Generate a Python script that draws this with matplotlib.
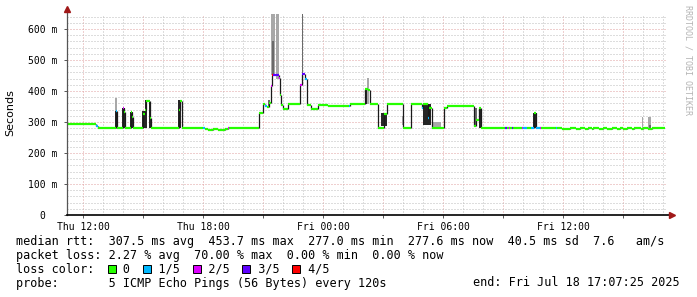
import matplotlib
matplotlib.use("Agg")
import matplotlib.pyplot as plt
from matplotlib.patches import Rectangle
import numpy as np

# median rtt steps: start time (hours after Thu 12:00), median (ms), loss (of 5 pings)
step_t = [-0.80, 0.65, 0.75, 1.65, 1.70, 2.00, 2.05, 2.10, 2.40, 2.45, 2.50,
          3.00, 3.10, 3.15, 3.35, 3.40, 4.80, 4.85, 4.95, 6.00, 6.10, 6.25,
          6.50, 6.75, 7.10, 7.25, 7.30, 8.70, 8.80, 9.00, 9.10, 9.20, 9.30,
          9.40, 9.45, 9.50, 9.80, 9.85, 9.90, 10.00, 10.25, 10.85, 10.95,
          11.10, 11.20, 11.40, 11.75, 12.25, 13.30, 13.35, 14.10, 14.25,
          14.35, 14.75, 15.05, 15.20, 16.00, 16.40, 16.95, 17.00, 17.25,
          17.30, 17.45, 18.05, 18.20, 19.55, 19.65, 19.80, 19.90, 21.10,
          21.20, 21.30, 21.35, 21.45, 21.50, 21.95, 22.00, 22.20, 22.40,
          22.55, 22.65, 22.85, 22.90, 23.65, 23.70, 23.95, 24.35, 24.65,
          24.85, 25.10, 25.25, 25.45, 25.50, 25.80, 26.00, 26.20, 26.45,
          26.70, 26.85, 27.00, 27.20, 27.45, 27.55, 27.90, 28.00, 28.25,
          28.45]
step_ms = [294, 288, 282, 335, 282, 345, 332, 282, 332, 316, 282,
           325, 340, 368, 313, 282, 340, 368, 282, 280, 278, 275,
           278, 275, 279, 282, 282, 282, 329, 358, 352, 350, 360,
           416, 452, 452, 442, 387, 355, 342, 358, 420, 455,
           440, 355, 342, 355, 352, 352, 358, 405, 403,
           358, 282, 325, 358, 282, 358, 345, 358, 312,
           345, 282, 345, 352, 287, 306, 345, 280, 280,
           280, 280, 280, 280, 280, 280, 280, 280, 280,
           329, 280, 280, 280, 280, 280, 277, 281, 277,
           281, 277, 281, 277, 281, 277, 281, 277, 281,
           277, 281, 277, 281, 277, 281, 277, 281, 277,
           281]
step_loss = [0, 1, 0, 1, 0, 2, 0, 0, 0, 0, 0,
             0, 0, 0, 0, 0, 0, 0, 0, 1, 0, 0,
             0, 0, 0, 2, 0, 0, 0, 0, 1, 0, 0,
             2, 4, 3, 2, 0, 0, 0, 0, 2, 3,
             1, 0, 0, 0, 0, 1, 0, 0, 0,
             0, 0, 0, 0, 0, 0, 1, 0, 1,
             0, 0, 0, 0, 0, 0, 0, 0, 3,
             0, 2, 0, 3, 0, 2, 1, 0, 1,
             0, 1, 2, 0, 1, 0, 0, 0, 0,
             0, 0, 0, 0, 0, 0, 0, 0, 0,
             0, 0, 0, 0, 0, 0, 0, 0, 0,
             0]
end_t = 29.10

# smoke: start, end (hours), low, high (ms), shade (0 light .. 2 dark)
smoke_t0 = [1.60, 1.62, 1.95, 2.35, 2.95, 3.10, 3.30, 4.75, 9.25, 9.40, 9.45,
            9.65, 10.95, 14.10, 14.20, 14.90, 15.95, 17.00, 17.50, 19.60,
            19.80, 22.50, 27.95, 28.25, 28.30]
smoke_t1 = [1.70, 1.70, 2.10, 2.50, 3.15, 3.20, 3.40, 4.90, 9.35, 9.60, 9.55,
            9.80, 11.00, 14.25, 14.30, 15.20, 16.05, 17.40, 17.90, 19.70,
            19.90, 22.70, 28.00, 28.40, 28.40]
smoke_lo = [282, 335, 282, 282, 282, 282, 282, 282, 350, 452, 452,
            440, 455, 358, 358, 287, 290, 290, 280, 287,
            282, 280, 280, 280, 280]
smoke_hi = [335, 378, 345, 332, 335, 372, 365, 370, 372, 660, 560,
            660, 660, 406, 442, 329, 320, 358, 300, 345,
            345, 329, 316, 315, 290]
smoke_shade = [2, 0, 2, 2, 2, 2, 2, 2, 1, 0, 1,
               0, 1, 2, 0, 2, 0, 2, 0, 1,
               2, 2, 0, 0, 1]

hour_ticks = [0, 6, 12, 18, 24]
hour_labels = ["Thu 12:00", "Thu 18:00", "Fri 00:00", "Fri 06:00", "Fri 12:00"]
ms_ticks = [0, 100, 200, 300, 400, 500, 600]
ms_labels = ["0  ", "100 m", "200 m", "300 m", "400 m", "500 m", "600 m"]

loss_colors = ["#26ff00", "#00b8ff", "#dd00ff", "#5e00ff", "#ff0000"]
loss_names = ["0", "1/5", "2/5", "3/5", "4/5"]
shade_colors = ["#a8a8a8", "#6a6a6a", "#262626"]

W, H = 697, 297
plt.rcParams["lines.scale_dashes"] = False
fig = plt.figure(figsize=(W / 100, H / 100), dpi=100, facecolor="white")
ax = fig.add_axes([67 / W, (H - 215) / H, 600 / W, 201.5 / H])
ax.set_xlim(-0.80, 29.20)
ax.set_ylim(0, 650)

mono = "DejaVu Sans Mono"

# grid
ax.set_axisbelow(True)
ax.set_xticks(np.arange(0, 30, 3))
ax.set_xticklabels([hour_labels[hour_ticks.index(h)] if h in hour_ticks else ""
                    for h in range(0, 30, 3)], fontfamily=mono, fontsize=7)
ax.set_xticks([h for h in range(0, 30) if h % 3], minor=True)
ax.set_yticks(ms_ticks)
ax.set_yticklabels(ms_labels, fontfamily=mono, fontsize=7)
ax.set_yticks([v for v in range(20, 660, 20) if v % 100], minor=True)
dots = (0, (0.72, 1.44))
ax.grid(which="major", color="#e0a0a0", lw=0.72, linestyle=dots)
ax.grid(which="minor", color="#bdbdbd", lw=0.72, linestyle=dots)
ax.tick_params(which="major", length=2, width=0.7, color="#555555", pad=5)
ax.tick_params(which="minor", length=0)
ax.tick_params(axis="x", pad=3)

for s in ax.spines.values():
    s.set_visible(False)

# smoke
for t0, t1, lo, hi, sh in zip(smoke_t0, smoke_t1, smoke_lo, smoke_hi, smoke_shade):
    ax.fill_between([t0, t1], lo, hi, color=shade_colors[sh], lw=0, zorder=2)

# median: dark risers and loss-coloured treads
t_edges = np.array(step_t + [end_t])
ms = np.array(step_ms)
ax.vlines(t_edges[1:-1], ms[:-1], ms[1:], color="#1a1a1a", lw=0.9, zorder=3)
ax.hlines(ms, t_edges[:-1], t_edges[1:],
          colors=[loss_colors[l] for l in step_loss], lw=1.6, zorder=4,
          capstyle="butt")

# axes lines and arrows
ax.plot([0, 0], [0, 1.015], transform=ax.transAxes, color="#555555",
        lw=0.9, clip_on=False, zorder=5)
ax.plot([0, 1.005], [0, 0], transform=ax.transAxes, color="black",
        lw=1.2, clip_on=False, zorder=5)
ax.plot([0], [1.02], marker="^", ms=4, color="#a01818", transform=ax.transAxes,
        clip_on=False, zorder=6)
ax.plot([1.008], [0], marker=">", ms=4, color="#a01818", transform=ax.transAxes,
        clip_on=False, zorder=6)

fig.text(10 / W, 1 - 113 / H, "Seconds", rotation=90, ha="center", va="center",
         fontsize=8, fontfamily="DejaVu Sans")
fig.text(688 / W, 1 - 60 / H, "RRDTOOL / TOBI OETIKER", rotation=270,
         ha="center", va="center", fontsize=6, fontfamily=mono, color="#b4b4b4")

# legend block
cw = 7.07
rows = [
    "median rtt:  307.5 ms avg  453.7 ms max  277.0 ms min  277.6 ms now  40.5 ms sd  7.6   am/s",
    "packet loss: 2.27 % avg  70.00 % max  0.00 % min  0.00 % now",
    "loss color:    " + "    ".join(loss_names),
    "probe:       5 ICMP Echo Pings (56 Bytes) every 120s",
]
for i, r in enumerate(rows):
    fig.text(16 / W, 1 - (241 + 14 * i) / H, r, ha="left", va="center",
             fontsize=8.45, fontfamily=mono)
for k, c in zip([13, 18, 25, 32, 39], loss_colors):
    x0 = 16 + k * cw
    fig.patches.append(Rectangle((x0 / W, 1 - 273 / H), 8 / W, 8 / H,
                                 transform=fig.transFigure, facecolor=c,
                                 edgecolor="black", lw=0.7))
fig.text(680 / W, 1 - 283 / H, "end: Fri Jul 18 17:07:25 2025", ha="right",
         va="center", fontsize=8.45, fontfamily=mono)

fig.savefig("out.png", dpi=100, facecolor="white")
